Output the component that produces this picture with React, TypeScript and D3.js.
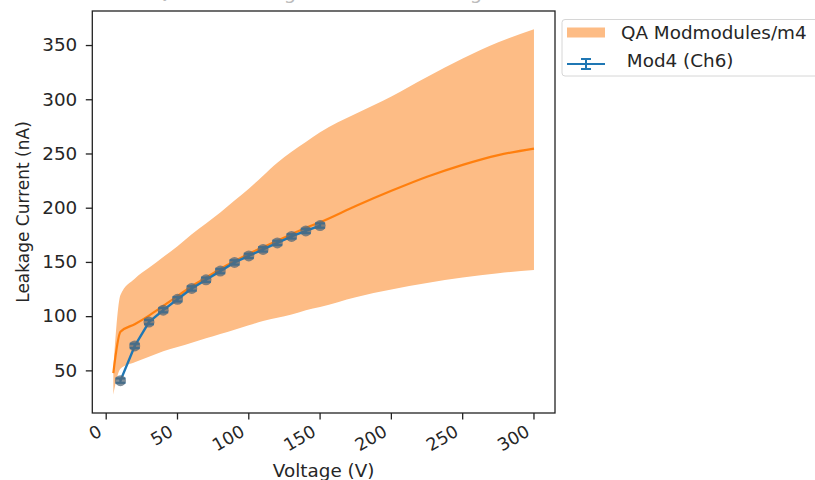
import React from "react";
import * as d3 from "d3";

// QA reference band (mean ± spread) for the module
const qaVoltage = [5, 10, 20, 30, 40, 50, 60, 70, 80, 90, 100, 110, 120, 130, 140, 150, 175, 200, 225, 250, 275, 300];
const qaMean = [48, 86, 93, 101, 110, 119, 128, 136, 144, 151, 158, 164, 170, 176, 182, 187, 202, 216, 229, 240, 249, 255];
const qaUpper = [52, 120, 135, 145, 155, 165, 176, 186, 196, 207, 218, 230, 242, 252, 261, 270, 287, 303, 321, 338, 353, 365];
const qaLower = [28, 52, 58, 63, 68, 72, 76, 80, 84, 88, 92, 96, 99, 102, 106, 109, 118, 125, 131, 136, 140, 143];

// Measured channel
const modVoltage = [10, 20, 30, 40, 50, 60, 70, 80, 90, 100, 110, 120, 130, 140, 150];
const modCurrent = [41, 73, 95, 106, 116, 126, 134, 142, 150, 156, 162, 168, 174, 179, 184];
const modError = [2, 2, 2, 2, 2, 2, 2, 2, 2, 2, 2, 2, 2, 2, 2];

const xTicks = [0, 50, 100, 150, 200, 250, 300];
const yTicks = [50, 100, 150, 200, 250, 300, 350];

const titleText = "QA IV - Leakage Current vs Voltage";
const xLabel = "Voltage (V)";
const yLabel = "Leakage Current (nA)";
const bandLabel = "QA Modmodules/m4";
const modLabel = " Mod4 (Ch6)";

const W = 815;
const H = 480;
const plot = { left: 92.3, right: 555, top: 11, bottom: 413 };
const SX = 1.08; // horizontal text stretch
const FONT = "DejaVu Sans, sans-serif";
const BAND = "#fdbc85";
const ORANGE = "#ff7f0e";
const BLUE = "#1f77b4";
const INK = "#262626";

function pad(ext: [number, number]): [number, number] {
  const d = (ext[1] - ext[0]) * 0.05;
  return [ext[0] - d, ext[1] + d];
}

export default function App() {
  const xExt: [number, number] = [d3.min(qaVoltage)!, d3.max(qaVoltage)!];
  const yExt: [number, number] = [d3.min(qaLower)!, d3.max(qaUpper)!];
  const x = d3.scaleLinear().domain(pad(xExt)).range([plot.left, plot.right]);
  const y = d3.scaleLinear().domain(pad(yExt)).range([plot.bottom, plot.top]);

  const qa = qaVoltage.map((v, i) => ({ v, m: qaMean[i], hi: qaUpper[i], lo: qaLower[i] }));
  const mod = modVoltage.map((v, i) => ({ v, c: modCurrent[i], e: modError[i] }));

  const band = d3
    .area<typeof qa[number]>()
    .x((d) => x(d.v))
    .y0((d) => y(d.lo))
    .y1((d) => y(d.hi))
    .curve(d3.curveMonotoneX)(qa)!;
  const meanLine = d3
    .line<typeof qa[number]>()
    .x((d) => x(d.v))
    .y((d) => y(d.m))
    .curve(d3.curveMonotoneX)(qa)!;
  const modLine = d3
    .line<typeof mod[number]>()
    .x((d) => x(d.v))
    .y((d) => y(d.c))(mod)!;

  return (
    <svg width={W} height={H} style={{ position: "absolute", left: 0, top: 0, background: "#fff" }}>
      <rect x={0} y={0} width={W} height={H} fill="#fff" />
      {/* title sits above the frame */}
      <g transform={`translate(${(plot.left + plot.right) / 2},${-1}) scale(${SX},1)`}>
        <text textAnchor="middle" fontFamily={FONT} fontSize={18} fill="#bbb">
          {titleText}
        </text>
      </g>

      <path d={band} fill={BAND} stroke="none" />
      <path d={meanLine} fill="none" stroke={ORANGE} strokeWidth={2.2} />

      {/* error bars */}
      {mod.map((d, i) => (
        <g key={`e${i}`} stroke={BLUE} strokeWidth={2.2}>
          <line x1={x(d.v)} x2={x(d.v)} y1={y(d.c - d.e)} y2={y(d.c + d.e)} />
          <line x1={x(d.v) - 5} x2={x(d.v) + 5} y1={y(d.c - d.e)} y2={y(d.c - d.e)} />
          <line x1={x(d.v) - 5} x2={x(d.v) + 5} y1={y(d.c + d.e)} y2={y(d.c + d.e)} />
        </g>
      ))}
      <path d={modLine} fill="none" stroke={BLUE} strokeWidth={2.4} />
      {mod.map((d, i) => (
        <circle key={`m${i}`} cx={x(d.v)} cy={y(d.c)} r={5.5} fill="#55697a" fillOpacity={0.75} />
      ))}

      {/* frame */}
      <rect
        x={plot.left}
        y={plot.top}
        width={plot.right - plot.left}
        height={plot.bottom - plot.top}
        fill="none"
        stroke="#222"
        strokeWidth={1.3}
      />

      {/* x axis */}
      {xTicks.map((t) => (
        <g key={`x${t}`}>
          <line x1={x(t)} x2={x(t)} y1={plot.bottom} y2={plot.bottom + 6.5} stroke="#222" strokeWidth={1.3} />
          <text
            transform={`translate(${x(t) - 3},${plot.bottom + 22}) rotate(-30)`}
            textAnchor="end"
            fontFamily={FONT}
            fontSize={17.5}
            fill={INK}
          >
            {t}
          </text>
        </g>
      ))}
      <g transform={`translate(${(plot.left + plot.right) / 2},${477}) scale(${SX},1)`}>
        <text textAnchor="middle" fontFamily={FONT} fontSize={17} fill={INK}>
          {xLabel}
        </text>
      </g>

      {/* y axis */}
      {yTicks.map((t) => (
        <g key={`y${t}`}>
          <line x1={plot.left - 6.5} x2={plot.left} y1={y(t)} y2={y(t)} stroke="#222" strokeWidth={1.3} />
          <g transform={`translate(${plot.left - 15},${y(t)}) scale(${SX},1)`}>
            <text textAnchor="end" dominantBaseline="central" fontFamily={FONT} fontSize={17} fill={INK}>
              {t}
            </text>
          </g>
        </g>
      ))}
      <g transform={`translate(${29},${(plot.top + plot.bottom) / 2}) rotate(-90)`}>
        <text textAnchor="middle" fontFamily={FONT} fontSize={17} fill={INK}>
          {yLabel}
        </text>
      </g>

      {/* legend */}
      <rect x={562} y={19.5} width={270} height={56.5} rx={3} fill="#fff" stroke="#d6d6d6" strokeWidth={1} />
      <rect x={567} y={27.5} width={38} height={10} fill={BAND} />
      <g transform={`translate(621,38.5) scale(${SX},1)`}>
        <text fontFamily={FONT} fontSize={17} fill={INK}>
          {bandLabel}
        </text>
      </g>
      <g stroke={BLUE} strokeWidth={2}>
        <line x1={567} x2={605} y1={64} y2={64} />
        <line x1={586} x2={586} y1={59} y2={69} />
        <line x1={581} x2={591} y1={59} y2={59} />
        <line x1={581} x2={591} y1={69} y2={69} />
      </g>
      <g transform={`translate(621,66.5) scale(${SX},1)`}>
        <text fontFamily={FONT} fontSize={17} fill={INK} style={{ whiteSpace: "pre" }}>
          {modLabel}
        </text>
      </g>
    </svg>
  );
}
